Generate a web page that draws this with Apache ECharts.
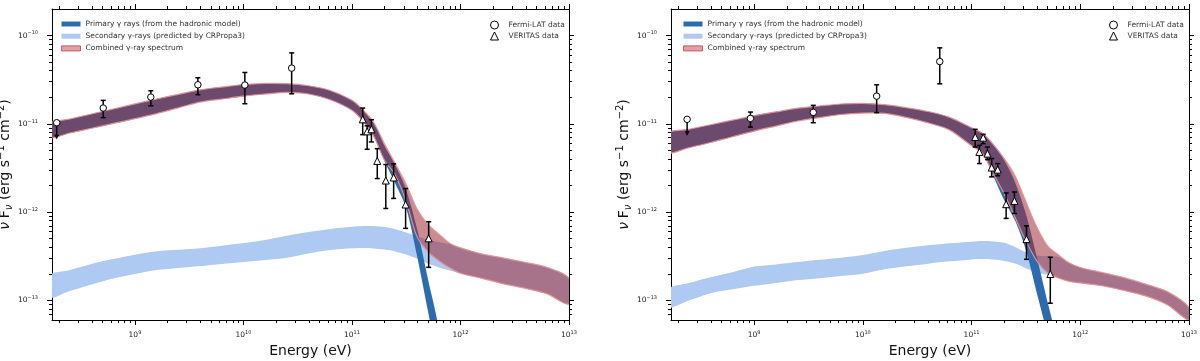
<!DOCTYPE html>
<html>
<head>
<meta charset="utf-8" />
<title>SED</title>
<script src="https://cdn.jsdelivr.net/npm/echarts@6/dist/echarts.min.js"></script>
<style>
html, body { margin: 0; padding: 0; background: #fff; }
#chart { width: 1200px; height: 361px; }
</style>
</head>
<body>
<div id="chart"></div>
<script>
// energy grid of the model bands (eV)
var energy = [1.585e8, 2.512e8, 3.981e8, 6.31e8, 1e9, 1.585e9, 2.512e9, 3.981e9, 6.31e9, 1e10,
              1.585e10, 2.512e10, 3.981e10, 6.31e10, 1e11, 1.259e11, 1.585e11, 1.995e11, 2.512e11, 3.162e11,
              3.981e11, 5.012e11, 6.31e11, 7.943e11, 1e12, 1.585e12, 2.512e12, 3.981e12, 6.31e12, 1e13];

// ---- left panel, model bands (nuFnu, erg s-1 cm-2)
var primLoL = [6.93e-12, 7.87e-12, 8.92e-12, 1.011e-11, 1.145e-11, 1.307e-11, 1.52e-11, 1.763e-11, 1.907e-11, 2.06e-11,
               2.18e-11, 2.27e-11, 2.18e-11, 1.877e-11, 1.425e-11, 1.078e-11, 7.26e-12, 3.78e-12, 2.10e-12, 1.11e-12,
               3.18e-13, 7.61e-14, 1.87e-14];
var primHiL = [9.97e-12, 1.135e-11, 1.294e-11, 1.473e-11, 1.683e-11, 1.911e-11, 2.16e-11, 2.43e-11, 2.61e-11, 2.79e-11,
               2.87e-11, 2.85e-11, 2.70e-11, 2.39e-11, 1.849e-11, 1.446e-11, 1.035e-11, 5.6e-12, 3.40e-12, 1.773e-12,
               6.43e-13, 1.75e-13, 4.6e-14];
var secLoL = [1.067e-13, 1.28e-13, 1.517e-13, 1.774e-13, 1.994e-13, 2.21e-13, 2.33e-13, 2.45e-13, 2.59e-13, 2.72e-13,
              2.87e-13, 3.05e-13, 3.40e-13, 3.72e-13, 3.89e-13, 3.93e-13, 3.88e-13, 3.77e-13, 3.59e-13, 3.31e-13,
              2.98e-13, 2.62e-13, 2.36e-13, 2.18e-13, 2.03e-13, 1.774e-13, 1.537e-13, 1.367e-13, 1.185e-13, 9.13e-14];
var secHiL = [1.892e-13, 2.21e-13, 2.59e-13, 2.94e-13, 3.29e-13, 3.60e-13, 3.74e-13, 3.89e-13, 4.16e-13, 4.46e-13,
              4.85e-13, 5.4e-13, 5.95e-13, 6.45e-13, 6.82e-13, 6.97e-13, 6.95e-13, 6.77e-13, 6.39e-13, 5.87e-13,
              5.29e-13, 4.89e-13, 4.58e-13, 4.35e-13, 3.94e-13, 3.35e-13, 3.02e-13, 2.69e-13, 2.36e-13, 1.774e-13];
var combLoL = [6.93e-12, 7.87e-12, 8.92e-12, 1.011e-11, 1.145e-11, 1.307e-11, 1.52e-11, 1.763e-11, 1.907e-11, 2.06e-11,
               2.18e-11, 2.27e-11, 2.18e-11, 1.877e-11, 1.425e-11, 1.078e-11, 7.26e-12, 3.87e-12, 2.62e-12, 1.307e-12,
               5.26e-13, 3.56e-13, 2.82e-13, 2.35e-13, 2.03e-13, 1.774e-13, 1.537e-13, 1.367e-13, 1.185e-13, 9.13e-14];
var combHiL = [9.97e-12, 1.135e-11, 1.294e-11, 1.473e-11, 1.683e-11, 1.911e-11, 2.16e-11, 2.43e-11, 2.61e-11, 2.79e-11,
               2.87e-11, 2.85e-11, 2.70e-11, 2.39e-11, 1.849e-11, 1.446e-11, 1.035e-11, 5.93e-12, 3.52e-12, 2.06e-12,
               1.084e-12, 7.24e-13, 5.64e-13, 4.44e-13, 3.94e-13, 3.35e-13, 3.02e-13, 2.69e-13, 2.36e-13, 1.774e-13];

// ---- right panel, model bands
var primLoR = [4.70e-12, 5.36e-12, 6.15e-12, 7.15e-12, 8.27e-12, 9.44e-12, 1.078e-11, 1.178e-11, 1.277e-11, 1.325e-11,
               1.315e-11, 1.184e-11, 1.027e-11, 8.49e-12, 5.64e-12, 4.65e-12, 2.55e-12, 1.367e-12, 8.02e-13, 3.72e-13,
               1.216e-13, 4.07e-14, 1.367e-14];
var primHiR = [7.81e-12, 8.69e-12, 9.77e-12, 1.101e-11, 1.238e-11, 1.367e-11, 1.504e-11, 1.592e-11, 1.679e-11, 1.709e-11,
               1.648e-11, 1.525e-11, 1.381e-11, 1.184e-11, 9.02e-12, 7.81e-12, 5.72e-12, 3.87e-12, 2.18e-12, 9.5e-13,
               3.10e-13, 9.45e-14, 2.83e-14];
var secLoR = [8.23e-14, 9.95e-14, 1.206e-13, 1.334e-13, 1.462e-13, 1.578e-13, 1.701e-13, 1.787e-13, 1.892e-13, 2.00e-13,
              2.25e-13, 2.43e-13, 2.61e-13, 2.77e-13, 2.91e-13, 2.94e-13, 2.90e-13, 2.80e-13, 2.62e-13, 2.32e-13,
              2.07e-13, 1.942e-13, 1.796e-13, 1.64e-13, 1.578e-13, 1.466e-13, 1.298e-13, 1.125e-13, 8.94e-14, 5.94e-14];
var secHiR = [1.331e-13, 1.573e-13, 1.834e-13, 2.09e-13, 2.42e-13, 2.56e-13, 2.72e-13, 2.88e-13, 3.05e-13, 3.26e-13,
              3.63e-13, 3.94e-13, 4.21e-13, 4.44e-13, 4.63e-13, 4.70e-13, 4.66e-13, 4.51e-13, 4.04e-13, 3.51e-13,
              3.23e-13, 3.18e-13, 3.10e-13, 2.65e-13, 2.36e-13, 2.07e-13, 1.811e-13, 1.528e-13, 1.257e-13, 8.34e-14];
var combLoR = [4.70e-12, 5.36e-12, 6.15e-12, 7.15e-12, 8.27e-12, 9.44e-12, 1.078e-11, 1.178e-11, 1.277e-11, 1.325e-11,
               1.315e-11, 1.184e-11, 1.027e-11, 8.49e-12, 5.64e-12, 4.65e-12, 2.72e-12, 1.619e-12, 8.74e-13, 4.70e-13,
               2.80e-13, 2.04e-13, 1.796e-13, 1.64e-13, 1.578e-13, 1.466e-13, 1.298e-13, 1.125e-13, 8.94e-14, 5.94e-14];
var combHiR = [7.81e-12, 8.69e-12, 9.77e-12, 1.101e-11, 1.238e-11, 1.367e-11, 1.504e-11, 1.592e-11, 1.679e-11, 1.709e-11,
               1.648e-11, 1.525e-11, 1.381e-11, 1.184e-11, 9.02e-12, 7.81e-12, 5.87e-12, 4.05e-12, 2.59e-12, 1.312e-12,
               6.77e-13, 4.13e-13, 3.27e-13, 2.65e-13, 2.36e-13, 2.07e-13, 1.811e-13, 1.528e-13, 1.257e-13, 8.34e-14];

// ---- measured points: energy, flux, lower / upper end of the bar, upper-limit flag
var fermiE_L  = [1.9e8, 5.1e8, 1.4e9, 3.8e9, 1.03e10, 2.78e10];
var fermiF_L  = [1.03e-11, 1.51e-11, 2.01e-11, 2.77e-11, 2.75e-11, 4.28e-11];
var fermiLo_L = [6.8e-12, 1.175e-11, 1.60e-11, 2.14e-11, 1.69e-11, 2.19e-11];
var fermiHi_L = [1.03e-11, 1.845e-11, 2.37e-11, 3.33e-11, 3.82e-11, 6.37e-11];
var fermiUL_L = [1, 0, 0, 0, 0, 0];
var veritasE_L  = [1.256e11, 1.38e11, 1.51e11, 1.71e11, 2.05e11, 2.42e11, 3.12e11, 5.09e11];
var veritasF_L  = [1.125e-11, 8.22e-12, 8.67e-12, 3.80e-12, 2.28e-12, 2.47e-12, 1.22e-12, 5.05e-13];
var veritasLo_L = [7.55e-12, 5.15e-12, 6.24e-12, 2.40e-12, 1.10e-12, 1.43e-12, 6.55e-13, 2.37e-13];
var veritasHi_L = [1.51e-11, 9.5e-12, 1.114e-11, 5.24e-12, 3.46e-12, 3.52e-12, 1.85e-12, 7.78e-13];

var fermiE_R  = [2.42e8, 9.25e8, 3.5e9, 1.34e10, 5.1e10];
var fermiF_R  = [1.125e-11, 1.153e-11, 1.35e-11, 2.06e-11, 5.08e-11];
var fermiLo_R = [7.41e-12, 9.2e-12, 1.03e-11, 1.34e-11, 2.84e-11];
var fermiHi_R = [1.125e-11, 1.36e-11, 1.62e-11, 2.77e-11, 7.26e-11];
var fermiUL_R = [1, 0, 0, 0, 0];
var veritasE_R  = [1.08e11, 1.28e11, 1.18e11, 1.40e11, 1.53e11, 1.74e11, 2.08e11, 2.48e11, 3.2e11, 5.3e11];
var veritasF_R  = [7.1e-12, 6.98e-12, 4.81e-12, 4.60e-12, 3.20e-12, 3.03e-12, 1.23e-12, 1.34e-12, 4.95e-13, 1.99e-13];
var veritasLo_R = [5.47e-12, 5.97e-12, 3.55e-12, 3.94e-12, 2.51e-12, 2.58e-12, 8.49e-13, 9.66e-13, 2.92e-13, 9.3e-14];
var veritasHi_R = [8.67e-12, 7.6e-12, 5.71e-12, 5.47e-12, 4.05e-12, 3.55e-12, 1.65e-12, 1.69e-12, 7.0e-13, 3.08e-13];

// axis ranges and ticks
var xMin = 1.72e8, xMax = 1e13, yMin = 6e-14, yMax = 2e-10;
var majorX = [1e9, 1e10, 1e11, 1e12, 1e13];
var majorY = [1e-13, 1e-12, 1e-11, 1e-10];

var NAME_P = 'Primary \u03b3 rays (from the hadronic model)';
var NAME_S = 'Secondary \u03b3-rays (predicted by CRPropa3)';
var NAME_C = 'Combined \u03b3-ray spectrum';
var NAME_F = 'Fermi-LAT data';
var NAME_V = 'VERITAS data';

var COL_P = '#2b6cb0';
var COL_S = '#aec9f2';
var COL_C = 'rgba(160,48,58,0.56)';
var EDGE_C = 'rgba(228,146,148,0.95)';

function minorTicks(lo, hi) {
  var out = [];
  for (var d = Math.floor(Math.log10(lo)); d <= Math.ceil(Math.log10(hi)); d++) {
    for (var k = 2; k <= 9; k++) {
      var v = k * Math.pow(10, d);
      if (v > lo * 1.0001 && v < hi * 0.9999) out.push(v);
    }
  }
  return out;
}
var minorX = minorTicks(xMin, xMax);
var minorY = minorTicks(yMin, yMax);

function powLabel(v) {
  var n = Math.round(Math.log10(v));
  return '{b|10}{e|' + (n < 0 ? '\u2212' + (-n) : n) + '}';
}
var labelRich = {
  b: { fontSize: 7.5, lineHeight: 10, color: '#222', fontFamily: 'DejaVu Sans' },
  e: { fontSize: 5, lineHeight: 6, verticalAlign: 'top', color: '#222', fontFamily: 'DejaVu Sans' }
};
var ext = function (a, b) { return Object.assign({}, a, b); };
var tickLine = { color: '#000', width: 1 };

function xAxes(gi) {
  var base = { type: 'log', gridIndex: gi, min: xMin, max: xMax, splitLine: { show: false },
               axisLine: { show: true, lineStyle: tickLine }, axisLabel: { show: false } };
  return [
    ext(base, { position: 'bottom', name: 'Energy (eV)', nameLocation: 'middle', nameGap: 17,
      nameTextStyle: { fontSize: 14, color: '#111', fontFamily: 'DejaVu Sans' },
      axisTick: { show: true, inside: false, length: 5, customValues: majorX, lineStyle: tickLine },
      axisLabel: { show: true, customValues: majorX, margin: 10, formatter: powLabel, rich: labelRich } }),
    ext(base, { position: 'bottom', axisLine: { show: false },
      axisTick: { show: true, inside: false, length: 3, customValues: minorX, lineStyle: tickLine } }),
    ext(base, { position: 'top',
      axisTick: { show: true, inside: false, length: 5, customValues: majorX, lineStyle: tickLine } }),
    ext(base, { position: 'top', axisLine: { show: false },
      axisTick: { show: true, inside: false, length: 3, customValues: minorX, lineStyle: tickLine } })
  ];
}
function yAxes(gi) {
  var base = { type: 'log', gridIndex: gi, min: yMin, max: yMax, splitLine: { show: false },
               axisLine: { show: true, lineStyle: tickLine }, axisLabel: { show: false } };
  return [
    ext(base, { position: 'left', nameLocation: 'middle', nameGap: 33,
      name: '{i|\u03bd} {t|F}{s|\u03bd}{t| (erg s}{p|\u22121}{t| cm}{p|\u22122}{t|)}',
      nameTextStyle: { rich: {
        i: { fontSize: 14, lineHeight: 18, fontStyle: 'italic', color: '#111', fontFamily: 'DejaVu Sans' },
        t: { fontSize: 14, lineHeight: 18, color: '#111', fontFamily: 'DejaVu Sans' },
        s: { fontSize: 10, lineHeight: 10, verticalAlign: 'bottom', fontStyle: 'italic', color: '#111', fontFamily: 'DejaVu Sans' },
        p: { fontSize: 10, lineHeight: 10, verticalAlign: 'top', color: '#111', fontFamily: 'DejaVu Sans' }
      } },
      axisTick: { show: true, inside: false, length: 5, customValues: majorY, lineStyle: tickLine },
      axisLabel: { show: true, customValues: majorY, margin: 14, formatter: powLabel, rich: labelRich } }),
    ext(base, { position: 'left', axisLine: { show: false },
      axisTick: { show: true, inside: false, length: 3, customValues: minorY, lineStyle: tickLine } }),
    ext(base, { position: 'right',
      axisTick: { show: true, inside: false, length: 5, customValues: majorY, lineStyle: tickLine } }),
    ext(base, { position: 'right', axisLine: { show: false },
      axisTick: { show: true, inside: false, length: 3, customValues: minorY, lineStyle: tickLine } })
  ];
}

// band: one closed smooth polygon (upper edge, then lower edge back), placed via the axes
function band(ax, lo, hi, name, fill, edge, z) {
  return {
    type: 'custom', name: name, xAxisIndex: ax, yAxisIndex: ax, silent: true, z: z, clip: true,
    itemStyle: { color: fill },
    data: lo.map(function (v, i) { return [energy[i], v, hi[i]]; }),
    renderItem: function (params, api) {
      if (params.dataIndex !== 0) return null;
      var pts = [];
      for (var i = 0; i < lo.length; i++) pts.push(api.coord([energy[i], hi[i]]));
      for (var j = lo.length - 1; j >= 0; j--) pts.push(api.coord([energy[j], lo[j]]));
      return {
        type: 'polygon', shape: { points: pts, smooth: 0.3 },
        style: edge ? { fill: fill, stroke: edge, lineWidth: 1.2 } : { fill: fill }
      };
    }
  };
}

function errorBars(ax, E, F, lo, hi, ul) {
  return {
    type: 'custom', xAxisIndex: ax, yAxisIndex: ax, silent: true, z: 6,
    data: E.map(function (e, i) { return [e, F[i], lo[i], hi[i], ul ? ul[i] : 0]; }),
    renderItem: function (params, api) {
      var e = api.value(0);
      var p = api.coord([e, api.value(1)]);
      var a = api.coord([e, api.value(2)]);
      var b = api.coord([e, api.value(3)]);
      var st = { stroke: '#000', lineWidth: 1.5 };
      if (api.value(4)) {
        return { type: 'group', children: [
          { type: 'line', shape: { x1: p[0], y1: p[1], x2: a[0], y2: a[1] - 3 }, style: st },
          { type: 'polygon', shape: { points: [[a[0] - 2.5, a[1] - 4], [a[0] + 2.5, a[1] - 4], [a[0], a[1] + 0.5]] },
            style: { fill: '#000' } }
        ] };
      }
      return { type: 'group', children: [
        { type: 'line', shape: { x1: a[0], y1: a[1], x2: b[0], y2: b[1] }, style: st },
        { type: 'line', shape: { x1: a[0] - 2.5, y1: a[1], x2: a[0] + 2.5, y2: a[1] }, style: st },
        { type: 'line', shape: { x1: b[0] - 2.5, y1: b[1], x2: b[0] + 2.5, y2: b[1] }, style: st }
      ] };
    }
  };
}

function points(ax, E, F, name, symbol, size) {
  return {
    type: 'scatter', name: name, xAxisIndex: ax, yAxisIndex: ax, silent: true, z: 7,
    symbol: symbol, symbolSize: size,
    itemStyle: { color: '#fff', borderColor: '#000', borderWidth: 1, opacity: 1 },
    data: E.map(function (e, i) { return [e, F[i]]; })
  };
}

function panelSeries(ax, d) {
  return [
    band(ax, d.secLo, d.secHi, NAME_S, COL_S, null, 2),
    band(ax, d.primLo, d.primHi, NAME_P, COL_P, null, 3),
    band(ax, d.combLo, d.combHi, NAME_C, COL_C, EDGE_C, 4),
    errorBars(ax, d.fE, d.fF, d.fLo, d.fHi, d.fUL),
    errorBars(ax, d.vE, d.vF, d.vLo, d.vHi, null),
    points(ax, d.fE, d.fF, NAME_F, 'circle', 6.5),
    points(ax, d.vE, d.vF, NAME_V, 'triangle', 7)
  ];
}

var legendText = { fontSize: 7.5, lineHeight: 9, color: '#333', fontFamily: 'DejaVu Sans' };
function bandLegend(left) {
  return {
    left: left, top: 14.5, orient: 'vertical', itemWidth: 19, itemHeight: 5, itemGap: 3.2,
    selectedMode: false, textStyle: legendText,
    data: [
      { name: NAME_P, icon: 'rect', itemStyle: { color: COL_P, borderWidth: 0 } },
      { name: NAME_S, icon: 'rect', itemStyle: { color: COL_S, borderWidth: 0 } },
      { name: NAME_C, icon: 'rect', itemStyle: { color: 'rgba(214,120,126,0.7)', borderColor: '#c8585e', borderWidth: 1 } }
    ]
  };
}
function dataLegend(left) {
  return {
    left: left, top: 15.5, orient: 'vertical', itemWidth: 8, itemHeight: 8, itemGap: 2,
    selectedMode: false, textStyle: ext(legendText, { padding: [0, 0, 0, 5] }),
    data: [
      { name: NAME_F, icon: 'circle', itemStyle: { color: '#fff', borderColor: '#000', borderWidth: 1 } },
      { name: NAME_V, icon: 'triangle', itemStyle: { color: '#fff', borderColor: '#000', borderWidth: 1 } }
    ]
  };
}

var chart = echarts.init(document.getElementById('chart'), null, { renderer: 'canvas' });
var option = {
  animation: false,
  backgroundColor: '#fff',
  textStyle: { fontFamily: 'DejaVu Sans' },
  grid: [
    { left: 52, top: 9, width: 517, height: 311, outerBoundsMode: 'none' },
    { left: 671, top: 9, width: 518, height: 311, outerBoundsMode: 'none' }
  ],
  xAxis: [].concat(xAxes(0), xAxes(1)),
  yAxis: [].concat(yAxes(0), yAxes(1)),
  legend: [bandLegend(56), dataLegend(485), bandLegend(678), dataLegend(1104)],
  series: [].concat(
    panelSeries(0, { secLo: secLoL, secHi: secHiL, primLo: primLoL, primHi: primHiL, combLo: combLoL, combHi: combHiL,
      fE: fermiE_L, fF: fermiF_L, fLo: fermiLo_L, fHi: fermiHi_L, fUL: fermiUL_L,
      vE: veritasE_L, vF: veritasF_L, vLo: veritasLo_L, vHi: veritasHi_L }),
    panelSeries(4, { secLo: secLoR, secHi: secHiR, primLo: primLoR, primHi: primHiR, combLo: combLoR, combHi: combHiR,
      fE: fermiE_R, fF: fermiF_R, fLo: fermiLo_R, fHi: fermiHi_R, fUL: fermiUL_R,
      vE: veritasE_R, vF: veritasF_R, vLo: veritasLo_R, vHi: veritasHi_R })
  )
};
chart.setOption(option);
</script>
</body>
</html>
